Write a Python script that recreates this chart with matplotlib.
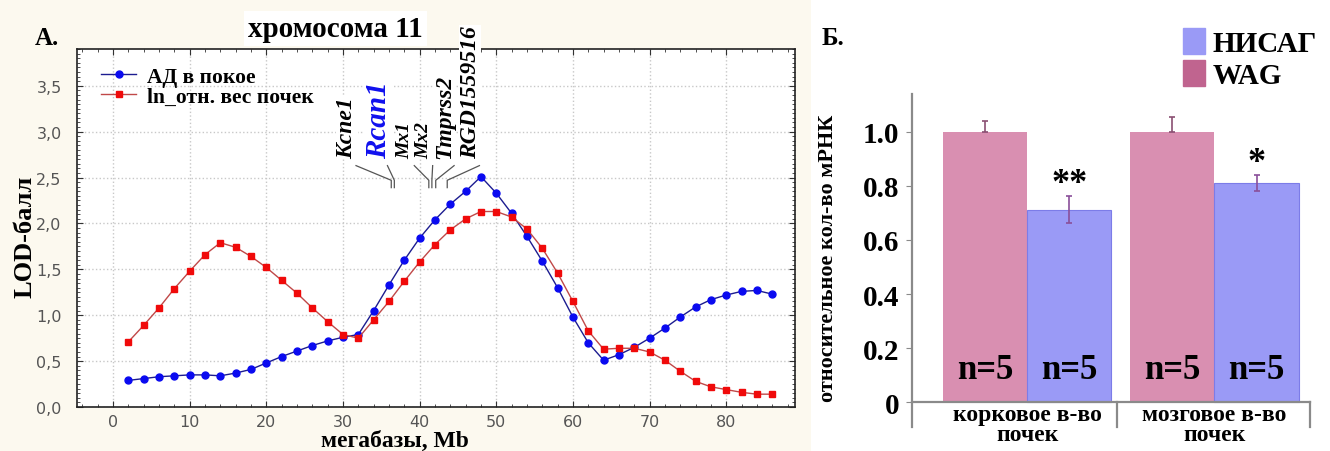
import matplotlib.pyplot as plt
import matplotlib.patches as mpatches
from matplotlib.ticker import MultipleLocator, FuncFormatter

# panel A: LOD scores along chromosome 11
mb = list(range(2, 88, 2))
lod_ad = [0.29, 0.31, 0.33, 0.34, 0.35, 0.35, 0.34, 0.37, 0.41, 0.48, 0.55,
          0.61, 0.67, 0.72, 0.76, 0.79, 1.05, 1.33, 1.60, 1.84, 2.04, 2.21,
          2.35, 2.51, 2.33, 2.11, 1.86, 1.59, 1.30, 0.98, 0.70, 0.51, 0.57,
          0.65, 0.75, 0.86, 0.98, 1.09, 1.17, 1.22, 1.26, 1.27, 1.23]
lod_kidney = [0.71, 0.89, 1.08, 1.29, 1.48, 1.66, 1.79, 1.74, 1.64, 1.52, 1.38,
              1.24, 1.08, 0.93, 0.79, 0.75, 0.95, 1.15, 1.37, 1.58, 1.77, 1.93,
              2.05, 2.13, 2.13, 2.07, 1.94, 1.73, 1.46, 1.15, 0.83, 0.63, 0.64,
              0.64, 0.60, 0.51, 0.39, 0.28, 0.22, 0.19, 0.16, 0.14, 0.14]
genes = ['Kcne1', 'Rcan1', 'Mx1', 'Mx2', 'Tmprss2', 'RGD1559516']
gene_label_x = [30.5, 34.6, 38.1, 40.5, 43.3, 46.6]
gene_pos = [36.3, 36.7, 41.2, 41.6, 42.1, 43.6]

# panel B: relative mRNA
regions = ['корковое в-во\nпочек', 'мозговое в-во\nпочек']
wag = [1.0, 1.0]
wag_err = [0.04, 0.055]
nisag = [0.712, 0.81]
nisag_err = [0.05, 0.03]
stars = ['**', '*']
n_animals = [5, 5]

serif = 'Liberation Serif'
cream = '#fcf9ef'
pink = '#d98fb1'
violet = '#9a9af6'

fig = plt.figure(figsize=(13.3, 4.52), dpi=100, facecolor=cream)
fig.patches.append(mpatches.Rectangle((0.61, 0), 0.39, 1, transform=fig.transFigure,
                                      facecolor='white', edgecolor='none', zorder=-10))

# ---------- A ----------
ax = fig.add_axes([0.0579, 0.0973, 0.540, 0.792])
ax.plot(mb, lod_ad, color='#1c1c90', lw=1.0, marker='o', ms=5,
        mfc='#0a0af0', mec='#0a0af0', label='АД в покое', zorder=3)
ax.plot(mb, lod_kidney, color='#c04848', lw=1.0, marker='s', ms=4.8,
        mfc='#f00a0a', mec='#f00a0a', label='ln_отн. вес почек', zorder=3)
ax.set_xlim(-4.7, 89)
ax.set_ylim(0, 3.9)
ax.xaxis.set_major_locator(MultipleLocator(10))
ax.xaxis.set_minor_locator(MultipleLocator(2))
ax.yaxis.set_major_locator(MultipleLocator(0.5))
ax.yaxis.set_minor_locator(MultipleLocator(0.05))
ax.yaxis.set_major_formatter(FuncFormatter(lambda v, p: f'{v:.1f}'.replace('.', ',')))
ax.tick_params(which='both', direction='in', top=True, right=True, color='#333333')
ax.tick_params(which='major', length=4, labelsize=11.5, labelcolor='#555555')
ax.tick_params(axis='y', which='major', pad=11)
ax.tick_params(axis='x', which='major', pad=5)
ax.tick_params(which='minor', length=2)
for lab in ax.get_xticklabels() + ax.get_yticklabels():
    lab.set_family('DejaVu Sans')
ax.grid(True, which='major', color='#c8c8c8', ls=':', lw=1)
for s in ax.spines.values():
    s.set_color('#222222')
    s.set_linewidth(1.2)
ax.set_xlabel('мегабазы, Mb', family=serif, fontweight='bold', fontsize=17, va='center')
ax.xaxis.set_label_coords(0.443, -0.094)
ax.set_ylabel('LOD-балл', family=serif, fontweight='bold', fontsize=19, va='center')
ax.yaxis.set_label_coords(-0.072, 0.478)
leg = ax.legend(loc='upper left', bbox_to_anchor=(0.022, 0.975), frameon=False,
                prop={'family': serif, 'weight': 'bold', 'size': 15.5},
                handlelength=1.6, labelspacing=0.0, borderaxespad=0, handletextpad=0.5)

for name, lx, gx in zip(genes, gene_label_x, gene_pos):
    big = name == 'Rcan1'
    size = 21 if big else (14 if name.startswith('Mx') else 17)
    ax.text(lx, 2.71, name, rotation=90, ha='center', va='bottom', family=serif,
            style='italic', fontweight='bold', fontsize=size,
            color='#1010ee' if big else 'black',
            bbox=dict(facecolor='white', edgecolor='none', pad=0.5), zorder=4,
            clip_on=False)
    ax.plot([lx + 1.2, gx, gx], [2.63, 2.47, 2.39], color='#555555', lw=0.9, zorder=4)

fig.text(0.026, 0.915, 'А.', family=serif, fontweight='bold', fontsize=18, va='center')
fig.text(0.252, 0.935, 'хромосома 11', family=serif, fontweight='bold', fontsize=21,
         ha='center', va='center',
         bbox=dict(facecolor='white', edgecolor='none', pad=3))

# ---------- Б ----------
bx = fig.add_axes([0.6857, 0.0531, 0.2992, 0.7367])
bx.set_facecolor('white')
pos = list(range(len(regions)))
w = 0.45
xw = [p - w / 2 for p in pos]
xn = [p + w / 2 for p in pos]
bx.bar(xw, wag, width=w, color=pink, zorder=2)
bx.bar(xn, nisag, width=w, color=violet, edgecolor='#7c7ce8', lw=0.8, zorder=2)
bx.errorbar(xw, wag, yerr=[[0] * len(wag), wag_err], fmt='none', ecolor='#8a4f72',
            elinewidth=1.2, capsize=2, capthick=1.2, zorder=3)
bx.errorbar(xn, nisag, yerr=nisag_err, fmt='none', ecolor='#8a4f9a',
            elinewidth=1.2, capsize=2, capthick=1.2, zorder=3)
for x, v, e, s in zip(xn, nisag, nisag_err, stars):
    bx.text(x, v + e - 0.015, s, ha='center', va='bottom', family=serif,
            fontweight='bold', fontsize=26)
for xa, xb, n in zip(xw, xn, n_animals):
    for x in (xa, xb):
        bx.text(x, 0.12, f'n={n}', ha='center', va='center', family=serif,
                fontweight='bold', fontsize=25)

bx.set_xlim(-0.615, 1.51)
bx.set_ylim(-0.092, 1.14)
bx.set_yticks([0, 0.2, 0.4, 0.6, 0.8, 1.0])
bx.set_yticklabels(['0', '0.2', '0.4', '0.6', '0.8', '1.0'])
bx.set_xticks(pos)
bx.set_xticklabels(regions)
bx.spines['top'].set_visible(False)
bx.spines['right'].set_visible(False)
bx.spines['bottom'].set_position(('data', 0))
for s in ('left', 'bottom'):
    bx.spines[s].set_color('#8a8a8a')
    bx.spines[s].set_linewidth(1.6)
bx.tick_params(axis='y', length=4, color='#8a8a8a', pad=5, labelsize=21)
bx.tick_params(axis='x', length=0, pad=1, labelsize=17)
for lab in bx.get_xticklabels() + bx.get_yticklabels():
    lab.set_family(serif)
    lab.set_fontweight('bold')
for lab in bx.get_xticklabels():
    lab.set_linespacing(0.95)
for xs in (0.48, 1.51):
    bx.plot([xs, xs], [0, -0.092], color='#8a8a8a', lw=1.6, clip_on=False)
bx.set_ylabel('относительное кол-во мРНК', family=serif, fontweight='bold',
              fontsize=16, va='center')
bx.yaxis.set_label_coords(-0.21, 0.51)

fig.text(0.618, 0.915, 'Б.', family=serif, fontweight='bold', fontsize=18, va='center')
handles = [mpatches.Patch(color=violet, label='НИСАГ'),
           mpatches.Patch(color='#c0648f', label='WAG')]
fig.legend(handles=handles, loc='upper left', bbox_to_anchor=(0.881, 0.962),
           frameon=False, prop={'family': serif, 'weight': 'bold', 'size': 21},
           handlelength=0.75, handleheight=1.0, handletextpad=0.25, labelspacing=0.1,
           borderaxespad=0)

fig.savefig('out.png', dpi=100, facecolor=fig.get_facecolor())
